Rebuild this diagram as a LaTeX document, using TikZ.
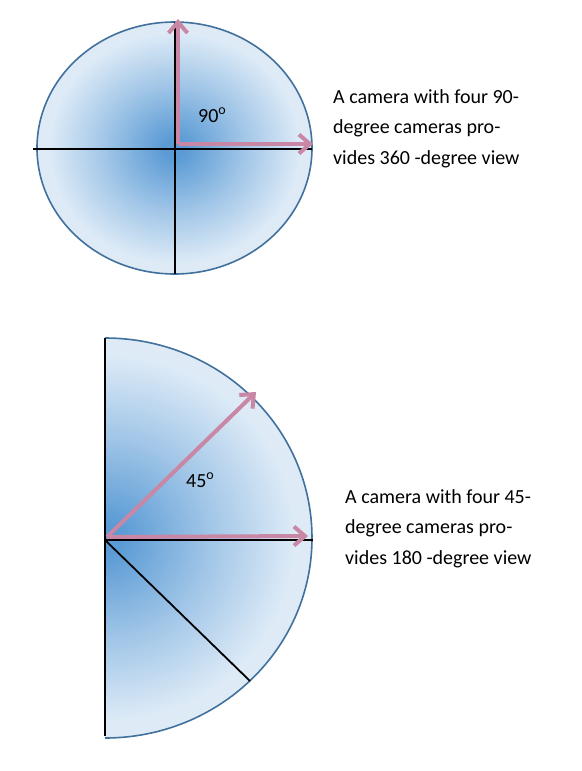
\documentclass[tikz,border=0pt]{standalone}
\usepackage{fontspec}
\setmainfont{Carlito}
\usetikzlibrary{arrows.meta}
\definecolor{glowin}{RGB}{91,155,213}
\definecolor{glowout}{RGB}{222,235,247}
\definecolor{rimblue}{RGB}{65,113,156}
\definecolor{rayPink}{RGB}{200,135,165}
\pgfdeclareradialshading{camglow}{\pgfpoint{0bp}{0bp}}{color(0bp)=(glowin); color(2bp)=(glowin); color(13bp)=(glowin!45!glowout); color(23bp)=(glowout); color(50bp)=(glowout)}
\begin{document}
\begin{tikzpicture}[x = 1pt, y = -1pt]
\tikzstyle{CamRim}=[draw = rimblue,
                    line width = 1.6pt]
\tikzstyle{CamAxis}=[draw = black,
                     line width = 1.8pt]
\tikzstyle{CamRay}=[draw = rayPink,
                    line width = 4pt,
                    -{Straight Barb[length = 11pt, width = 19pt]}]
\tikzstyle{CamText}=[font = \fontsize{20}{30.5}\selectfont,
                     align = left,
                     inner sep = 0pt,
                     anchor = base west]
\tikzstyle{CamLabel}=[font = \fontsize{20}{24}\selectfont,
                      inner sep = 0pt,
                      anchor = base west]
\useasboundingbox (0,0) rectangle (581,771);
\shade[shading = camglow] (174.5,148) ellipse [x radius = 137.5, y radius = 126];
\draw[CamRim] (174.5,148) ellipse [x radius = 137.5, y radius = 126];
\coordinate (t0) at (175,149);
\coordinate (tW) at (33,149);
\coordinate (tE) at (312,149);
\coordinate (tN) at (175,22);
\coordinate (tS) at (175,274);
\coordinate (r0) at (178,144);
\coordinate (rN) at (178,19);
\coordinate (rE) at (313,144);
\draw[CamAxis] (tW) -- (tE);
\draw[CamAxis] (tN) -- (tS);
\draw[CamRay] (r0) -- (rN);
\draw[CamRay] (r0) -- (rE);
\node[CamLabel] (a90) at (198,122) {90\textsuperscript{o}};
\node[CamText] (txt90) at (333,164) {A camera with four 90-\\degree cameras pro-\\vides 360 -degree view};
\begin{scope}
\clip (105,330) rectangle (330,750);
\shade[shading = camglow] (105,538) ellipse [x radius = 207, y radius = 200];
\end{scope}
\draw[CamRim] (105,338) arc [start angle = -90, end angle = 90, x radius = 207, y radius = 200];
\coordinate (b0) at (105,540);
\coordinate (bN) at (105,338);
\coordinate (bS) at (105,736);
\coordinate (bE) at (313,540);
\coordinate (bSE) at (250,681);
\coordinate (s0) at (107,537);
\coordinate (sNE) at (256,392);
\coordinate (sE) at (308,536);
\draw[CamAxis] (bN) -- (bS);
\draw[CamAxis] (b0) -- (bE);
\draw[CamAxis] (b0) -- (bSE);
\draw[CamRay] (s0) -- (sNE);
\draw[CamRay] (s0) -- (sE);
\node[CamLabel] (a45) at (186,487) {45\textsuperscript{o}};
\node[CamText] (txt45) at (345,564) {A camera with four 45-\\degree cameras pro-\\vides 180 -degree view};
\end{tikzpicture}
\end{document}
